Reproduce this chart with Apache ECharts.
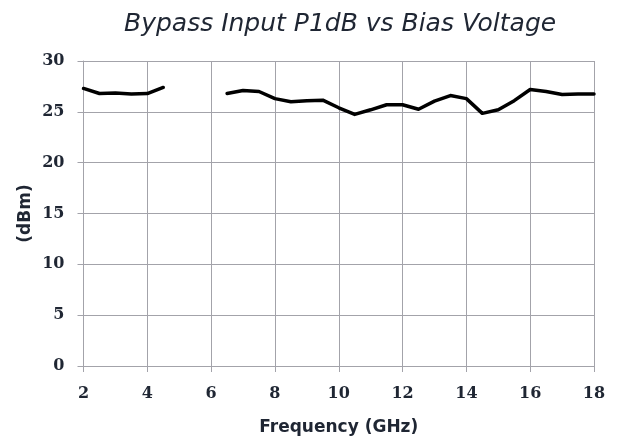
<!DOCTYPE html>
<html><head><meta charset="utf-8">
<script src="https://cdn.jsdelivr.net/npm/echarts@6/dist/echarts.min.js"></script>
<style>html,body{margin:0;padding:0;background:#fff}#c{width:617px;height:443px}</style>
</head><body><div id="c"></div>
<script>
const freqGHz = [2, 2.5, 3, 3.5, 4, 4.5, 5, 5.5, 6, 6.5, 7, 7.5, 8, 8.5, 9, 9.5, 10, 10.5, 11, 11.5, 12, 12.5, 13, 13.5, 14, 14.5, 15, 15.5, 16, 16.5, 17, 17.5, 18];
const p1dB = [27.3, 26.8, 26.85, 26.75, 26.8, 27.4, null, null, null, 26.8, 27.1, 27.0, 26.3, 26.0, 26.1, 26.15, 25.4, 24.75, 25.2, 25.7, 25.7, 25.25, 26.05, 26.6, 26.3, 24.85, 25.2, 26.1, 27.2, 27.0, 26.7, 26.75, 26.75];
const xTicks = [2, 4, 6, 8, 10, 12, 14, 16, 18];
const yTicks = [0, 5, 10, 15, 20, 25, 30];
const titleText = 'Bypass Input P1dB vs Bias Voltage';
const xName = 'Frequency (GHz)';
const yName = '(dBm)';

const chart = echarts.init(document.getElementById('c'));
const txt = '#1f2633';
const gridCol = '#a3a3aa';
chart.setOption({
  animation: false,
  title: {
    text: titleText, left: 119, top: 7,
    textStyle: { fontFamily: 'DejaVu Sans', fontStyle: 'italic', fontWeight: 'normal', fontSize: 25, color: txt }
  },
  grid: { left: 83.5, right: 23, top: 61, bottom: 77 },
  xAxis: {
    type: 'value', min: xTicks[0], max: xTicks[xTicks.length - 1], interval: 2,
    name: xName, nameLocation: 'middle', nameGap: 53,
    nameTextStyle: { fontFamily: 'DejaVu Sans', fontWeight: 'bold', fontSize: 17, color: txt },
    axisLine: { show: true, lineStyle: { color: gridCol, width: 1 } },
    axisTick: { show: true, length: 6, lineStyle: { color: gridCol } },
    splitLine: { show: true, lineStyle: { color: gridCol, width: 1 } },
    axisLabel: { margin: 20, fontFamily: 'DejaVu Serif', fontWeight: 'bold', fontSize: 16, color: txt }
  },
  yAxis: {
    type: 'value', min: yTicks[0], max: yTicks[yTicks.length - 1], interval: 5,
    name: yName, nameLocation: 'middle', nameGap: 49, nameRotate: 90, nameMoveOverlap: false,
    nameTextStyle: { fontFamily: 'DejaVu Sans', fontWeight: 'bold', fontSize: 17, color: txt },
    axisLine: { show: true, lineStyle: { color: gridCol, width: 1 } },
    axisTick: { show: true, length: 6, lineStyle: { color: gridCol } },
    splitLine: { show: true, lineStyle: { color: gridCol, width: 1 } },
    axisLabel: { margin: 19, fontFamily: 'DejaVu Serif', fontWeight: 'bold', fontSize: 16, color: txt }
  },
  series: [{
    type: 'line',
    data: freqGHz.map((f, i) => [f, p1dB[i]]),
    connectNulls: false,
    showSymbol: false,
    lineStyle: { color: '#000', width: 3.5, join: 'round', cap: 'round' },
    itemStyle: { color: '#000' }
  }]
});
</script></body></html>
